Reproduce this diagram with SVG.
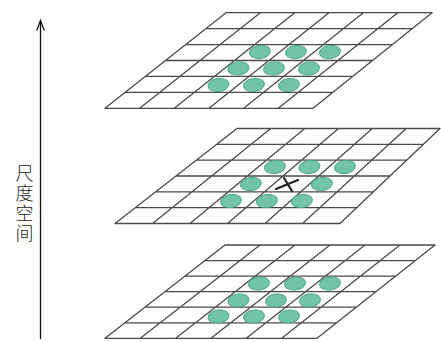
<svg xmlns="http://www.w3.org/2000/svg" width="441" height="342" viewBox="0 0 441 342">
<defs>
<style>
.grid{fill:none;stroke:#4a4a4a;stroke-width:1.3;stroke-linecap:round}
.dot{fill:#72c4a6;stroke:#52a98a;stroke-width:1}
.axis{fill:none;stroke:#111;stroke-width:1.3}
.lbl{font-family:"Noto Sans CJK SC","Noto Sans",sans-serif;font-size:18px;font-weight:300;fill:#222;writing-mode:vertical-rl;letter-spacing:2px}
.x{stroke:#222;stroke-width:2.2;stroke-linecap:round}
</style>
</defs>
<rect width="441" height="342" fill="#fff"/>
<g id="layer-top">
<path class="grid" d="M226 12.7H432M205.8 28.6H412.2M185.7 44.6H392.3M165.5 60.5H372.5M145.3 76.4H352.7M125.2 92.4H332.8M105 108.3H313M226 12.7L105 108.3M260.3 12.7L139.7 108.3M294.7 12.7L174.3 108.3M329 12.7L209 108.3M363.3 12.7L243.7 108.3M397.7 12.7L278.3 108.3M432 12.7L313 108.3"/>
<ellipse class="dot" cx="260" cy="52" rx="10.5" ry="6.5" transform="rotate(-8 260 52)"/>
<ellipse class="dot" cx="296" cy="52" rx="10.5" ry="6.5" transform="rotate(-8 296 52)"/>
<ellipse class="dot" cx="330" cy="52" rx="10.5" ry="6.5" transform="rotate(-8 330 52)"/>
<ellipse class="dot" cx="238.5" cy="68.5" rx="10.5" ry="6.5" transform="rotate(-8 238.5 68.5)"/>
<ellipse class="dot" cx="274" cy="68.5" rx="10.5" ry="6.5" transform="rotate(-8 274 68.5)"/>
<ellipse class="dot" cx="309" cy="68.5" rx="10.5" ry="6.5" transform="rotate(-8 309 68.5)"/>
<ellipse class="dot" cx="218.5" cy="85" rx="10.5" ry="6.5" transform="rotate(-8 218.5 85)"/>
<ellipse class="dot" cx="254" cy="85" rx="10.5" ry="6.5" transform="rotate(-8 254 85)"/>
<ellipse class="dot" cx="289" cy="85" rx="10.5" ry="6.5" transform="rotate(-8 289 85)"/>
</g>
<g id="layer-middle">
<path class="grid" d="M237 128.5H440M216.7 144.3H423.3M196.3 160.2H406.7M176 176H390M155.7 191.8H373.3M135.3 207.7H356.7M115 223.5H340M237 128.5L115 223.5M270.8 128.5L152.5 223.5M304.7 128.5L190 223.5M338.5 128.5L227.5 223.5M372.3 128.5L265 223.5M406.2 128.5L302.5 223.5M440 128.5L340 223.5"/>
<ellipse class="dot" cx="275" cy="167" rx="10.5" ry="6.5" transform="rotate(-8 275 167)"/>
<ellipse class="dot" cx="309.5" cy="167" rx="10.5" ry="6.5" transform="rotate(-8 309.5 167)"/>
<ellipse class="dot" cx="345" cy="167" rx="10.5" ry="6.5" transform="rotate(-8 345 167)"/>
<ellipse class="dot" cx="251" cy="184" rx="10.5" ry="6.5" transform="rotate(-8 251 184)"/>
<ellipse class="dot" cx="322" cy="184" rx="10.5" ry="6.5" transform="rotate(-8 322 184)"/>
<ellipse class="dot" cx="231" cy="201" rx="10.5" ry="6.5" transform="rotate(-8 231 201)"/>
<ellipse class="dot" cx="267" cy="201" rx="10.5" ry="6.5" transform="rotate(-8 267 201)"/>
<ellipse class="dot" cx="302" cy="201" rx="10.5" ry="6.5" transform="rotate(-8 302 201)"/>
<path class="x" d="M276 189L298 180M284 178L292 191"/>
</g>
<g id="layer-bottom">
<path class="grid" d="M225 245H435M205 260.6H415.3M185 276.1H395.7M165 291.7H376M145 307.2H356.3M125 322.8H336.7M105 338.3H317M225 245L105 338.3M260 245L140.3 338.3M295 245L175.7 338.3M330 245L211 338.3M365 245L246.3 338.3M400 245L281.7 338.3M435 245L317 338.3"/>
<ellipse class="dot" cx="259" cy="283.5" rx="10.5" ry="6.5" transform="rotate(-8 259 283.5)"/>
<ellipse class="dot" cx="295" cy="283.5" rx="10.5" ry="6.5" transform="rotate(-8 295 283.5)"/>
<ellipse class="dot" cx="330" cy="283.5" rx="10.5" ry="6.5" transform="rotate(-8 330 283.5)"/>
<ellipse class="dot" cx="238.5" cy="300.5" rx="10.5" ry="6.5" transform="rotate(-8 238.5 300.5)"/>
<ellipse class="dot" cx="276" cy="300.5" rx="10.5" ry="6.5" transform="rotate(-8 276 300.5)"/>
<ellipse class="dot" cx="310" cy="300.5" rx="10.5" ry="6.5" transform="rotate(-8 310 300.5)"/>
<ellipse class="dot" cx="218.5" cy="316.5" rx="10.5" ry="6.5" transform="rotate(-8 218.5 316.5)"/>
<ellipse class="dot" cx="254" cy="316.5" rx="10.5" ry="6.5" transform="rotate(-8 254 316.5)"/>
<ellipse class="dot" cx="289" cy="316.5" rx="10.5" ry="6.5" transform="rotate(-8 289 316.5)"/>
</g>
<g id="connectors">
<path class="axis" d="M40.5 339V21"/>
<path class="axis" d="M36.7 30.5L40.5 20.5L44.3 30.5"/>
</g>
<g id="label">
<text class="lbl" x="24.5" y="164">尺度空间</text>
</g>
</svg>
